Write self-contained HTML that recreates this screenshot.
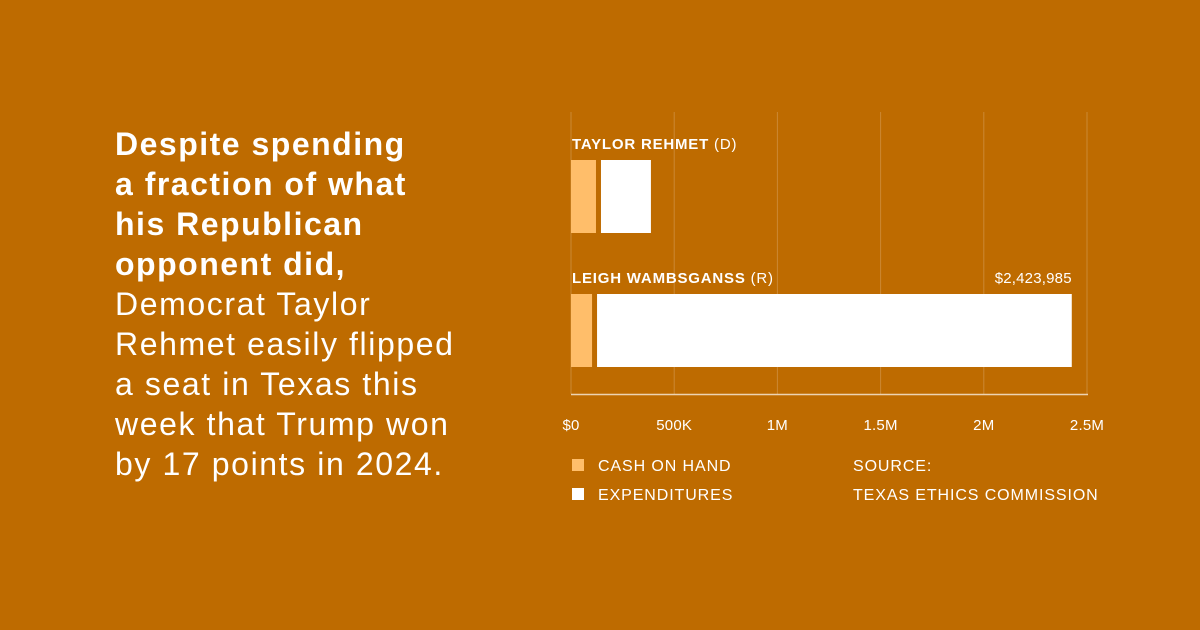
<!DOCTYPE html>
<html><head><meta charset="utf-8"><style>
html,body{margin:0;padding:0;}
body{width:1200px;height:630px;background:#BE6B00;position:relative;overflow:hidden;font-family:"Liberation Sans",sans-serif;color:#fff;}
.txt{position:absolute;left:115px;top:124px;font-size:32px;line-height:40px;letter-spacing:1.6px;}
.txt b{font-weight:bold;letter-spacing:1.5px;}
svg{position:absolute;left:0;top:0;}
</style></head><body>
<div class="txt"><b>Despite spending<br>a fraction of what<br>his Republican<br>opponent did,</b><br>Democrat Taylor<br>Rehmet easily flipped<br>a seat in Texas this<br>week that Trump won<br>by 17 points in 2024.</div>
<svg width="1200" height="630" id="chart"></svg>
<script>
const candidates=["TAYLOR REHMET","LEIGH WAMBSGANSS"];
const parties=["(D)","(R)"];
const cashOnHand=[121000,102000];
const expenditures=[242000,2300000];
const totalLabels=["","$2,423,985"];
const tickValues=[0,500000,1000000,1500000,2000000,2500000];
const tickLabels=["$0","500K","1M","1.5M","2M","2.5M"];
const NS="http://www.w3.org/2000/svg";
const svg=document.getElementById('chart');
const x0=571,pxPerUnit=516/2500000;
function x(v){return x0+v*pxPerUnit;}
const rowTop=[160,294];
function mk(t,a){const e=document.createElementNS(NS,t);for(const k in a)e.setAttribute(k,a[k]);svg.appendChild(e);return e;}
tickValues.forEach((v,i)=>{
  const g=mk('line',{x1:x(v),x2:x(v),y1:112,y2:394,stroke:'rgba(255,255,255,0.2)','stroke-width':1});
  
  
  const t=mk('text',{x:x(v),y:430,'text-anchor':'middle','font-size':15,fill:'#fff','letter-spacing':0.2});
  t.textContent=tickLabels[i];
  
  
});
const ax=mk('line',{x1:x0,x2:1088,y1:394.5,y2:394.5,stroke:'rgba(255,255,255,0.7)','stroke-width':1.5});


candidates.forEach((c,i)=>{
  const y=rowTop[i];
  const lb=mk('text',{x:572,y:y-11,'font-size':15,fill:'#fff','letter-spacing':0.8});
  lb.innerHTML='<tspan font-weight="bold">'+c+'</tspan> '+parties[i];
  
  
  const r1=mk('rect',{x:x(0),y:y,width:x(cashOnHand[i])-x(0),height:73,fill:'#FFBE6A'});
  
  
  const sx=x(cashOnHand[i])+5;
  const r2=mk('rect',{x:sx,y:y,width:x(expenditures[i])-x(0),height:73,fill:'#fff'});
  
  
  if(totalLabels[i]){
    const tl=mk('text',{x:sx+x(expenditures[i])-x(0),y:y-11,'text-anchor':'end','font-size':15,fill:'#fff','letter-spacing':0.2});
    tl.textContent=totalLabels[i];
    
    
  }
});
const legend=[["CASH ON HAND","#FFBE6A",459],["EXPENDITURES","#fff",488]];
legend.forEach(l=>{
  const s=mk('rect',{x:572,y:l[2],width:12,height:12,fill:l[1]});
  
  
  const t=mk('text',{x:598,y:l[2]+12,'font-size':16,fill:'#fff','letter-spacing':0.9});
  t.textContent=l[0];
  
  
});
["SOURCE:","TEXAS ETHICS COMMISSION"].forEach((s,i)=>{
  const t=mk('text',{x:853,y:471+i*29,'font-size':16,fill:'#fff','letter-spacing':0.9});
  t.textContent=s;
  
  
});
</script>
</body></html>
